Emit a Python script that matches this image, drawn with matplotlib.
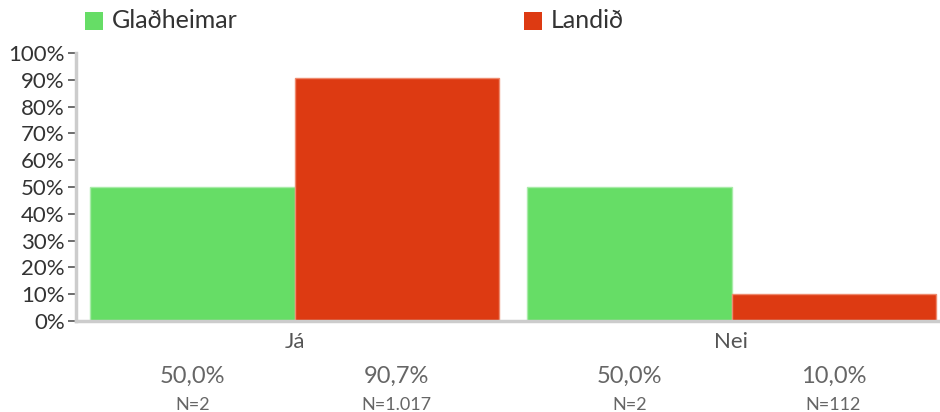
import matplotlib
matplotlib.use("Agg")
import matplotlib.pyplot as plt
from matplotlib.patches import Rectangle
import numpy as np

categories = ["Já", "Nei"]
series_names = ["Glaðheimar", "Landið"]
gladheimar = [50.0, 50.0]
landid = [90.7, 10.0]
gladheimar_n = ["N=2", "N=2"]
landid_n = ["N=1.017", "N=112"]
yticks = [0, 10, 20, 30, 40, 50, 60, 70, 80, 90, 100]

colors = ["#66DD66", "#DD3A12"]
edge = ["#A8EBA8", "#EE8A6E"]

plt.rcParams['font.family'] = ['Lato', 'DejaVu Sans']

W, H = 940, 412
fig = plt.figure(figsize=(W / 100, H / 100), dpi=100)
left, right = 76, 950
bottom, top = 91, 359
ax = fig.add_axes([left / W, bottom / H, (right - left) / W, (top - bottom) / H])

x = np.arange(len(categories))
bw = 0.467
ax.bar(x - bw / 2, gladheimar, bw, color=colors[0], edgecolor=edge[0], linewidth=1)
ax.bar(x + bw / 2, landid, bw, color=colors[1], edgecolor=edge[1], linewidth=1)

ax.set_xlim(-0.5, 1.5)
ax.set_ylim(0, 100)
ax.set_yticks(yticks)
ax.set_yticklabels([f"{v}%" for v in yticks], fontsize=16, color="#333333")
ax.tick_params(axis='y', length=6, width=1.2, color="#555555", pad=2)
ax.set_xticks([])
for s in ["top", "right"]:
    ax.spines[s].set_visible(False)
ax.spines["left"].set_color("#CCCCCC")
ax.spines["left"].set_linewidth(2.5)
ax.spines["bottom"].set_color("#CCCCCC")
ax.spines["bottom"].set_linewidth(2.5)

# category labels and value labels under bars
for i, c in enumerate(categories):
    ax.annotate(c, xy=(x[i], 0), xycoords=("data", "axes fraction"), xytext=(0, -8),
                textcoords="offset points", ha="center", va="top", fontsize=16, color="#555555")
for vals, ns, off in [(gladheimar, gladheimar_n, -bw / 2), (landid, landid_n, bw / 2)]:
    for i in range(len(categories)):
        ax.annotate(f"{vals[i]:.1f}%".replace(".", ","), xy=(x[i] + off, 0),
                    xycoords=("data", "axes fraction"), xytext=(0, -32),
                    textcoords="offset points", ha="center", va="top", fontsize=17, color="#666666")
        ax.annotate(ns[i], xy=(x[i] + off, 0), xycoords=("data", "axes fraction"), xytext=(0, -55),
                    textcoords="offset points", ha="center", va="top", fontsize=13, color="#666666")

# legend
for name, col, lx in [(series_names[0], colors[0], 85), (series_names[1], colors[1], 524)]:
    fig.patches.append(Rectangle((lx / W, (H - 30) / H), 18 / W, 18 / H, transform=fig.transFigure,
                                 facecolor=col, edgecolor="none"))
    fig.text((lx + 27) / W, (H - 21) / H, name, fontsize=18, color="#333333", va="center", ha="left")

fig.savefig("out.png", dpi=100)
